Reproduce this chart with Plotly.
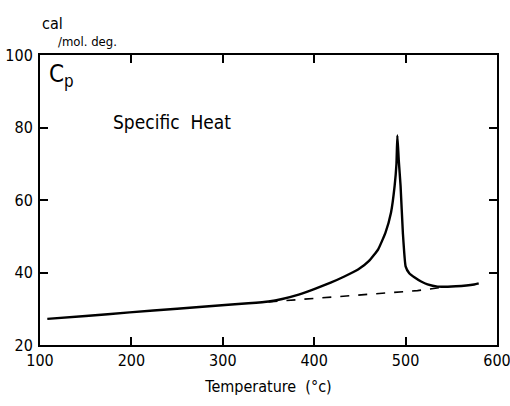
import plotly.graph_objects as go

# Measured specific heat curve (Temperature °C, Cp cal/mol·deg)
temp = [108, 150, 198, 250, 306, 328, 350, 365, 383, 400, 418, 433, 448, 460, 470, 478, 484,
        488, 490, 491, 492.5, 494.5, 497, 500, 504, 510, 517, 524, 535, 555, 575, 580]
cp = [27.2, 28.0, 29.0, 30.0, 31.1, 31.5, 32.0, 32.7, 33.9, 35.4, 37.2, 38.9, 40.8, 43.2,
      46.4, 51.0, 56.5, 63.9, 70.0, 77.8, 71.0, 63.9, 51.0, 41.7, 39.8, 38.6, 37.5, 36.7,
      36.1, 36.2, 36.7, 37.0]

# Extrapolated baseline (dashed)
base_temp = [350, 513, 540]
base_cp = [31.9, 35.0, 35.9]

x_ticks = [100, 200, 300, 400, 500, 600]
y_ticks = [20, 40, 60, 80, 100]

FONT = "Liberation Sans Narrow, DejaVu Sans Condensed, sans-serif"

fig = go.Figure()
fig.add_trace(go.Scatter(x=base_temp, y=base_cp, mode="lines",
                         line=dict(color="black", width=1.6, dash="dash"),
                         showlegend=False, hoverinfo="skip"))
fig.add_trace(go.Scatter(x=temp, y=cp, mode="lines",
                         line=dict(color="black", width=2.4, shape="spline", smoothing=0.4),
                         showlegend=False))

fig.update_layout(
    width=510, height=406,
    margin=dict(l=40, r=13, t=55, b=61),
    paper_bgcolor="white", plot_bgcolor="white",
    font=dict(family=FONT, size=16, color="black"),
    xaxis=dict(range=[100, 600], tickvals=x_ticks, ticks="inside", ticklen=8,
               tickwidth=1.5, tickcolor="black", showline=True, linecolor="black",
               linewidth=2, mirror="ticks", showgrid=False, zeroline=False,
               automargin=False, ticklabeloverflow="allow",
               title=dict(text="Temperature  (°c)", font=dict(size=16), standoff=12)),
    yaxis=dict(range=[20, 100], tickvals=y_ticks, ticks="inside", ticklen=8,
               tickwidth=1.5, tickcolor="black", showline=True, linecolor="black",
               linewidth=2, mirror="ticks", showgrid=False, zeroline=False,
               automargin=False, ticklabelstandoff=2),
    annotations=[
        dict(text="C<sub>p</sub>", x=0.015, y=0.99, xref="paper", yref="paper",
             xanchor="left", yanchor="top", showarrow=False, font=dict(size=24)),
        dict(text="Specific  Heat", x=0.155, y=0.77, xref="paper", yref="paper",
             xanchor="left", yanchor="middle", showarrow=False, font=dict(size=19)),
        dict(text="cal", x=0.0, y=1.07, xref="paper", yref="paper",
             xanchor="left", yanchor="bottom", showarrow=False, font=dict(size=16)),
        dict(text="/mol. deg.", x=0.035, y=1.015, xref="paper", yref="paper",
             xanchor="left", yanchor="bottom", showarrow=False, font=dict(size=13)),
    ],
)

fig.write_html("out.html", config={"displayModeBar": False},
               post_script="document.body.style.margin='0';")
